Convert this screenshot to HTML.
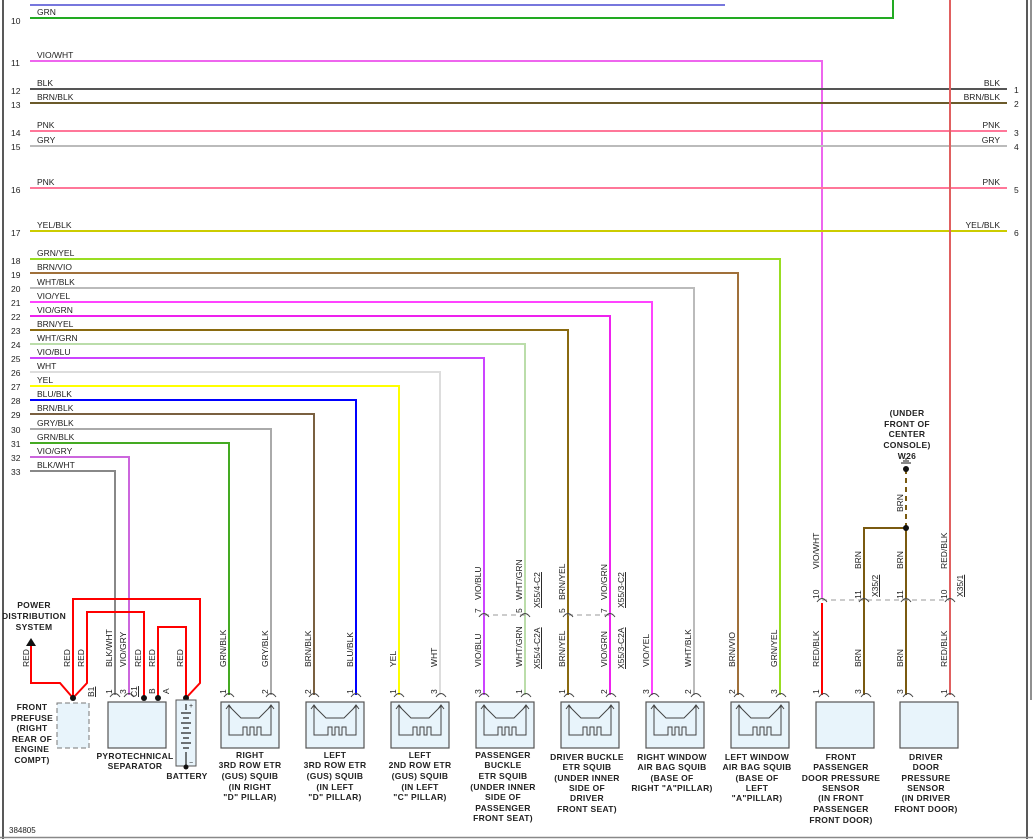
<!DOCTYPE html>
<html><head><meta charset="utf-8"><style>
html,body{margin:0;padding:0;background:#fff}
svg{display:block}
text{font-family:"Liberation Sans",Arial,sans-serif;font-size:8.5px;fill:#222}
.b{font-weight:bold;font-size:8.5px;letter-spacing:0.3px}
.w{fill:none;stroke-width:2}
</style></head><body>
<svg width="1033" height="839" viewBox="0 0 1033 839" xmlns="http://www.w3.org/2000/svg">
<defs>
<g id="sq">
<rect x="0" y="702" width="58" height="46" fill="#e8f4fb" stroke="#555" stroke-width="1.2"/>
<path d="M8,705 V735 H22 V727 H26 V735 H29 V727 H33 V735 H36 V727 H40 V735 H50 V705" fill="none" stroke="#444" stroke-width="1"/>
<path d="M8,706 L20,718 H38 L50,706 M5,709 L8,705 L11,709 M47,709 L50,705 L53,709" fill="none" stroke="#444" stroke-width="1"/>
<path d="M3,697 Q8,690 13,697 M45,697 Q50,690 55,697" fill="none" stroke="#444" stroke-width="1"/>
</g>
<g id="bx">
<rect x="0" y="702" width="58" height="46" fill="#e8f4fb" stroke="#555" stroke-width="1.2"/>
<path d="M3,697 Q8,690 13,697 M45,697 Q50,690 55,697" fill="none" stroke="#444" stroke-width="1"/>
</g>
</defs>
<rect width="1033" height="839" fill="#fff"/>
<line x1="3" y1="0" x2="3" y2="839" stroke="#222" stroke-width="1.5"/>
<line x1="1027" y1="0" x2="1027" y2="839" stroke="#222" stroke-width="1.5"/>
<line x1="1031" y1="0" x2="1031" y2="700" stroke="#222" stroke-width="1"/>
<line x1="0" y1="837.5" x2="1033" y2="837.5" stroke="#888" stroke-width="1.5"/>

<!-- horizontal wires -->
<line x1="30" y1="5" x2="725" y2="5" stroke="#7777dd" class="w"/>
<path d="M30,18 H893 V0" stroke="#22aa22" class="w"/>
<path d="M30,61 H822 V598" stroke="#ee66ee" class="w"/>
<line x1="30" y1="89" x2="1007" y2="89" stroke="#555" class="w"/>
<line x1="30" y1="103" x2="1007" y2="103" stroke="#6b5a2a" class="w"/>
<line x1="30" y1="131" x2="1007" y2="131" stroke="#ff7799" class="w"/>
<line x1="30" y1="146" x2="1007" y2="146" stroke="#bbb" class="w"/>
<line x1="30" y1="188" x2="1007" y2="188" stroke="#ff7799" class="w"/>
<line x1="30" y1="231" x2="1007" y2="231" stroke="#cccc00" class="w"/>
<path d="M30,259 H780 V695" stroke="#99dd22" class="w"/>
<path d="M30,273 H738 V695" stroke="#a0703a" class="w"/>
<path d="M30,288 H694 V695" stroke="#bbb" class="w"/>
<path d="M30,302 H652 V695" stroke="#ff44ff" class="w"/>
<path d="M30,316 H610 V695" stroke="#ee22ee" class="w"/>
<path d="M30,330 H568 V695" stroke="#8a6a10" class="w"/>
<path d="M30,344 H525 V695" stroke="#bbddaa" class="w"/>
<path d="M30,358 H484 V695" stroke="#cc44ff" class="w"/>
<path d="M30,372 H440 V695" stroke="#ddd" class="w"/>
<path d="M30,386 H399 V695" stroke="#ffff00" class="w"/>
<path d="M30,400 H356 V695" stroke="#0000ff" class="w"/>
<path d="M30,414 H314 V695" stroke="#7a6040" class="w"/>
<path d="M30,429 H271 V695" stroke="#aaa" class="w"/>
<path d="M30,443 H229 V695" stroke="#44aa22" class="w"/>
<path d="M30,457 H129 V695" stroke="#cc66dd" class="w"/>
<path d="M30,471 H115 V695" stroke="#888" class="w"/>
<line x1="950" y1="0" x2="950" y2="695" stroke="#e06060" class="w"/>
<line x1="822" y1="603" x2="822" y2="695" stroke="#ff0000" class="w"/>
<path d="M906,528 H864 V695" stroke="#7a5a10" class="w"/>
<line x1="906" y1="528" x2="906" y2="695" stroke="#7a5a10" class="w"/>
<line x1="906" y1="528" x2="906" y2="468" stroke="#7a5a10" stroke-width="2" stroke-dasharray="5,4"/>
<circle cx="906" cy="528" r="3" fill="#111"/>
<circle cx="906" cy="469" r="3" fill="#111"/>
<path d="M901,463 H911 M903,461 H909 M905,459 H907" stroke="#111" stroke-width="1"/>
<!-- connector dashes -->
<path d="M822,600 H950" stroke="#999" stroke-dasharray="5,4" stroke-width="1"/>
<path d="M484,615 H525 M568,615 H610" stroke="#999" stroke-dasharray="5,4" stroke-width="1"/>
<path d="M817,602 Q822,595 827,602 M859,602 Q864,595 869,602 M901,602 Q906,595 911,602 M945,602 Q950,595 955,602" fill="none" stroke="#444"/>
<path d="M479,617 Q484,610 489,617 M520,617 Q525,610 530,617 M563,617 Q568,610 573,617 M605,617 Q610,610 615,617" fill="none" stroke="#444"/>

<!-- red power wires -->
<path d="M73,698 L60,683 H31 V645" stroke="#ff0000" class="w"/>
<polygon points="26,646 36,646 31,638" fill="#111"/>
<path d="M73,698 L87,683 V612 H144 V698" stroke="#ff0000" class="w"/>
<path d="M73,698 V599 H200 V683 L186,698" stroke="#ff0000" class="w"/>
<path d="M158,698 V627 H186 V698" stroke="#ff0000" class="w"/>
<circle cx="73" cy="698" r="3" fill="#111"/>
<circle cx="144" cy="698" r="3" fill="#111"/>
<circle cx="158" cy="698" r="3" fill="#111"/>
<circle cx="186" cy="698" r="3" fill="#111"/>
<rect x="57" y="703" width="32" height="45" fill="#e8f4fb" stroke="#777" stroke-dasharray="5,3"/>
<rect x="108" y="702" width="58" height="46" fill="#e8f4fb" stroke="#555" stroke-width="1.2"/>
<path d="M110,697 Q115,690 120,697 M124,697 Q129,690 134,697" fill="none" stroke="#444"/>
<rect x="176" y="700" width="20" height="66" fill="#e8f4fb" stroke="#555"/>
<path d="M181,713 H191 M183,718 H189 M181,723 H191 M183,728 H189 M181,733 H191 M183,738 H189 M181,743 H191 M183,748 H189 M186,704 V710 M186,752 V766" stroke="#222" stroke-width="1.2"/>
<circle cx="186" cy="767" r="2.5" fill="#111"/>
<text x="189" y="708" style="font-size:7px">+</text><text x="189" y="765" style="font-size:7px">−</text>

<!-- squib boxes -->
<use href="#sq" x="221"/><use href="#sq" x="306"/><use href="#sq" x="391"/><use href="#sq" x="476"/>
<use href="#sq" x="561"/><use href="#sq" x="646"/><use href="#sq" x="731"/>
<use href="#bx" x="816"/><use href="#bx" x="900"/>

<!-- row numbers -->
<g>
<text x="11" y="24">10</text><text x="11" y="66">11</text><text x="11" y="94">12</text><text x="11" y="108">13</text>
<text x="11" y="136">14</text><text x="11" y="150">15</text><text x="11" y="193">16</text><text x="11" y="236">17</text>
<text x="11" y="264">18</text><text x="11" y="278">19</text><text x="11" y="292">20</text><text x="11" y="306">21</text>
<text x="11" y="320">22</text><text x="11" y="334">23</text><text x="11" y="348">24</text><text x="11" y="362">25</text>
<text x="11" y="376">26</text><text x="11" y="390">27</text><text x="11" y="404">28</text><text x="11" y="418">29</text>
<text x="11" y="433">30</text><text x="11" y="447">31</text><text x="11" y="461">32</text><text x="11" y="475">33</text>
</g>
<g>
<text x="37" y="15">GRN</text><text x="37" y="58">VIO/WHT</text><text x="37" y="86">BLK</text><text x="37" y="100">BRN/BLK</text>
<text x="37" y="128">PNK</text><text x="37" y="143">GRY</text><text x="37" y="185">PNK</text><text x="37" y="228">YEL/BLK</text>
<text x="37" y="256">GRN/YEL</text><text x="37" y="270">BRN/VIO</text><text x="37" y="285">WHT/BLK</text><text x="37" y="299">VIO/YEL</text>
<text x="37" y="313">VIO/GRN</text><text x="37" y="327">BRN/YEL</text><text x="37" y="341">WHT/GRN</text><text x="37" y="355">VIO/BLU</text>
<text x="37" y="369">WHT</text><text x="37" y="383">YEL</text><text x="37" y="397">BLU/BLK</text><text x="37" y="411">BRN/BLK</text>
<text x="37" y="426">GRY/BLK</text><text x="37" y="440">GRN/BLK</text><text x="37" y="454">VIO/GRY</text><text x="37" y="468">BLK/WHT</text>
</g>
<g text-anchor="end">
<text x="1000" y="86">BLK</text><text x="1000" y="100">BRN/BLK</text><text x="1000" y="128">PNK</text><text x="1000" y="143">GRY</text>
<text x="1000" y="185">PNK</text><text x="1000" y="228">YEL/BLK</text>
</g>
<g>
<text x="1014" y="93">1</text><text x="1014" y="107">2</text><text x="1014" y="136">3</text><text x="1014" y="150">4</text>
<text x="1014" y="193">5</text><text x="1014" y="236">6</text>
</g>

<!-- vertical wire labels (rotated) -->
<g>
<text transform="translate(29,667) rotate(-90)">RED</text>
<text transform="translate(70,667) rotate(-90)">RED</text>
<text transform="translate(84,667) rotate(-90)">RED</text>
<text transform="translate(112,667) rotate(-90)">BLK/WHT</text>
<text transform="translate(126,667) rotate(-90)">VIO/GRY</text>
<text transform="translate(141,667) rotate(-90)">RED</text>
<text transform="translate(155,667) rotate(-90)">RED</text>
<text transform="translate(183,667) rotate(-90)">RED</text>
<text transform="translate(226,667) rotate(-90)">GRN/BLK</text>
<text transform="translate(268,667) rotate(-90)">GRY/BLK</text>
<text transform="translate(311,667) rotate(-90)">BRN/BLK</text>
<text transform="translate(353,667) rotate(-90)">BLU/BLK</text>
<text transform="translate(396,667) rotate(-90)">YEL</text>
<text transform="translate(437,667) rotate(-90)">WHT</text>
<text transform="translate(481,667) rotate(-90)">VIO/BLU</text>
<text transform="translate(522,667) rotate(-90)">WHT/GRN</text>
<text transform="translate(565,667) rotate(-90)">BRN/YEL</text>
<text transform="translate(607,667) rotate(-90)">VIO/GRN</text>
<text transform="translate(649,667) rotate(-90)">VIO/YEL</text>
<text transform="translate(691,667) rotate(-90)">WHT/BLK</text>
<text transform="translate(735,667) rotate(-90)">BRN/VIO</text>
<text transform="translate(777,667) rotate(-90)">GRN/YEL</text>
<text transform="translate(819,667) rotate(-90)">RED/BLK</text>
<text transform="translate(861,667) rotate(-90)">BRN</text>
<text transform="translate(903,667) rotate(-90)">BRN</text>
<text transform="translate(947,667) rotate(-90)">RED/BLK</text>
<text transform="translate(481,600) rotate(-90)">VIO/BLU</text>
<text transform="translate(522,600) rotate(-90)">WHT/GRN</text>
<text transform="translate(565,600) rotate(-90)">BRN/YEL</text>
<text transform="translate(607,600) rotate(-90)">VIO/GRN</text>
<text transform="translate(819,569) rotate(-90)">VIO/WHT</text>
<text transform="translate(861,569) rotate(-90)">BRN</text>
<text transform="translate(903,569) rotate(-90)">BRN</text>
<text transform="translate(947,569) rotate(-90)">RED/BLK</text>
<text transform="translate(903,512) rotate(-90)">BRN</text>
</g>
<g text-decoration="underline">
<text transform="translate(540,608) rotate(-90)" text-decoration="underline">X55/4-C2</text>
<text transform="translate(624,608) rotate(-90)" text-decoration="underline">X55/3-C2</text>
<text transform="translate(540,669) rotate(-90)" text-decoration="underline">X55/4-C2A</text>
<text transform="translate(624,669) rotate(-90)" text-decoration="underline">X55/3-C2A</text>
<text transform="translate(878,597) rotate(-90)" text-decoration="underline">X35/2</text>
<text transform="translate(963,597) rotate(-90)" text-decoration="underline">X35/1</text>
<text transform="translate(94,697) rotate(-90)" text-decoration="underline">B1</text>
<text transform="translate(137,697) rotate(-90)" text-decoration="underline">C1</text>
</g>
<!-- pin numbers -->
<g style="font-size:8px">
<text transform="translate(112,694) rotate(-90)">1</text>
<text transform="translate(126,694) rotate(-90)">3</text>
<text transform="translate(155,694) rotate(-90)">B</text>
<text transform="translate(169,694) rotate(-90)">A</text>
<text transform="translate(226,694) rotate(-90)">1</text><text transform="translate(268,694) rotate(-90)">2</text>
<text transform="translate(311,694) rotate(-90)">2</text><text transform="translate(353,694) rotate(-90)">1</text>
<text transform="translate(396,694) rotate(-90)">1</text><text transform="translate(437,694) rotate(-90)">3</text>
<text transform="translate(481,694) rotate(-90)">3</text><text transform="translate(522,694) rotate(-90)">1</text>
<text transform="translate(565,694) rotate(-90)">1</text><text transform="translate(607,694) rotate(-90)">2</text>
<text transform="translate(649,694) rotate(-90)">3</text><text transform="translate(691,694) rotate(-90)">2</text>
<text transform="translate(735,694) rotate(-90)">2</text><text transform="translate(777,694) rotate(-90)">3</text>
<text transform="translate(819,694) rotate(-90)">1</text><text transform="translate(861,694) rotate(-90)">3</text>
<text transform="translate(903,694) rotate(-90)">3</text><text transform="translate(947,694) rotate(-90)">1</text>
<text transform="translate(481,613) rotate(-90)">7</text><text transform="translate(522,613) rotate(-90)">5</text>
<text transform="translate(565,613) rotate(-90)">5</text><text transform="translate(607,613) rotate(-90)">7</text>
<text transform="translate(819,599) rotate(-90)">10</text><text transform="translate(861,599) rotate(-90)">11</text>
<text transform="translate(903,599) rotate(-90)">11</text><text transform="translate(947,599) rotate(-90)">10</text>
</g>

<!-- component labels -->
<g class="b" text-anchor="middle">
<text x="34" y="608" class="b">POWER</text><text x="34" y="619" class="b">DISTRIBUTION</text><text x="34" y="630" class="b">SYSTEM</text>
<text x="32" y="710" class="b">FRONT</text><text x="32" y="721" class="b">PREFUSE</text><text x="32" y="731" class="b">(RIGHT</text><text x="32" y="742" class="b">REAR OF</text><text x="32" y="752" class="b">ENGINE</text><text x="32" y="763" class="b">COMPT)</text>
<text x="135" y="759" class="b">PYROTECHNICAL</text><text x="135" y="769" class="b">SEPARATOR</text>
<text x="187" y="779" class="b">BATTERY</text>
<text x="250" y="758" class="b">RIGHT</text><text x="250" y="768" class="b">3RD ROW ETR</text><text x="250" y="779" class="b">(GUS) SQUIB</text><text x="250" y="790" class="b">(IN RIGHT</text><text x="250" y="800" class="b">"D" PILLAR)</text>
<text x="335" y="758" class="b">LEFT</text><text x="335" y="768" class="b">3RD ROW ETR</text><text x="335" y="779" class="b">(GUS) SQUIB</text><text x="335" y="790" class="b">(IN LEFT</text><text x="335" y="800" class="b">"D" PILLAR)</text>
<text x="420" y="758" class="b">LEFT</text><text x="420" y="768" class="b">2ND ROW ETR</text><text x="420" y="779" class="b">(GUS) SQUIB</text><text x="420" y="790" class="b">(IN LEFT</text><text x="420" y="800" class="b">"C" PILLAR)</text>
<text x="503" y="758" class="b">PASSENGER</text><text x="503" y="768" class="b">BUCKLE</text><text x="503" y="779" class="b">ETR SQUIB</text><text x="503" y="790" class="b">(UNDER INNER</text><text x="503" y="800" class="b">SIDE OF</text><text x="503" y="811" class="b">PASSENGER</text><text x="503" y="821" class="b">FRONT SEAT)</text>
<text x="587" y="760" class="b">DRIVER BUCKLE</text><text x="587" y="770" class="b">ETR SQUIB</text><text x="587" y="781" class="b">(UNDER INNER</text><text x="587" y="791" class="b">SIDE OF</text><text x="587" y="801" class="b">DRIVER</text><text x="587" y="812" class="b">FRONT SEAT)</text>
<text x="672" y="760" class="b">RIGHT WINDOW</text><text x="672" y="770" class="b">AIR BAG SQUIB</text><text x="672" y="781" class="b">(BASE OF</text><text x="672" y="791" class="b">RIGHT "A"PILLAR)</text>
<text x="757" y="760" class="b">LEFT WINDOW</text><text x="757" y="770" class="b">AIR BAG SQUIB</text><text x="757" y="781" class="b">(BASE OF</text><text x="757" y="791" class="b">LEFT</text><text x="757" y="801" class="b">"A"PILLAR)</text>
<text x="841" y="760" class="b">FRONT</text><text x="841" y="770" class="b">PASSENGER</text><text x="841" y="781" class="b">DOOR PRESSURE</text><text x="841" y="791" class="b">SENSOR</text><text x="841" y="801" class="b">(IN FRONT</text><text x="841" y="812" class="b">PASSENGER</text><text x="841" y="823" class="b">FRONT DOOR)</text>
<text x="926" y="760" class="b">DRIVER</text><text x="926" y="770" class="b">DOOR</text><text x="926" y="781" class="b">PRESSURE</text><text x="926" y="791" class="b">SENSOR</text><text x="926" y="801" class="b">(IN DRIVER</text><text x="926" y="812" class="b">FRONT DOOR)</text>
<text x="907" y="416" class="b">(UNDER</text><text x="907" y="427" class="b">FRONT OF</text><text x="907" y="437" class="b">CENTER</text><text x="907" y="448" class="b">CONSOLE)</text><text x="907" y="459" class="b">W26</text>
</g>
<text x="9" y="833" style="font-size:8px">384805</text>
</svg>
</body></html>
